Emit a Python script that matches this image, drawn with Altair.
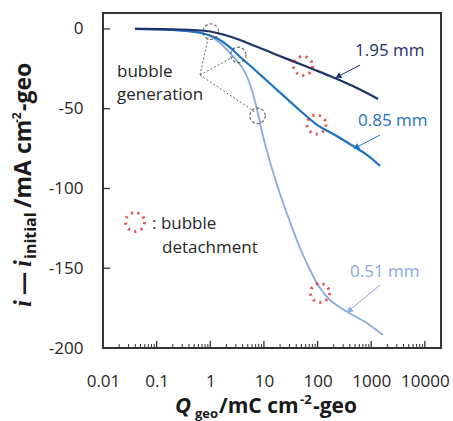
import altair as alt
import pandas as pd

# ---------------- data ----------------
q_195 = [0.0395, 0.273, 0.988, 1.881, 3.583, 6.818, 12.98, 24.72, 47.05, 89.6, 170.5, 324.8, 618.3, 1339]
v_195 = [0, -0.34, -1.6, -3.8, -6.9, -10.7, -14.5, -18.3, -22.0, -25.7, -29.5, -33.6, -38.0, -43.9]

q_085 = [0.0395, 0.273, 0.519, 0.988, 1.518, 2.331, 3.287, 6.818, 12.98, 24.72, 47.05, 93.5,
         211.4, 457.9, 835, 1459]
v_085 = [0, -0.9, -1.9, -4.1, -6.9, -11.6, -16.3, -25.7, -34.2, -42.7, -51.1, -59.6,
         -66.5, -73.4, -79.0, -85.9]

q_051 = [0.0395, 0.273, 0.643, 0.988, 1.518, 2.331, 3.287, 4.074, 5.049, 6.257, 7.756, 9.612,
         11.91, 14.77, 19.94, 30.64, 47.05, 72.3, 111.1, 170.5, 262, 402.5, 800, 1660]
v_051 = [0, -0.97, -2.2, -4.4, -8.8, -15.1, -20.7, -25.0, -31.4, -40.8, -53.3, -67.1,
         -79.0, -89.7, -103.5, -121.0, -137.3, -151.1, -162.4, -169.9, -174.6, -178.4, -184.0, -191.9]

# bubble generation (dashed circles) and detachment (red dotted circles)
q_gen = [1.02, 3.33, 7.6]
v_gen = [-1.7, -16.3, -54.5]
q_det = [53.6, 95.5, 111]
v_det = [-23.2, -59.9, -165.5]

x_labels = [0.01, 0.1, 1, 10, 100, 1000, 10000]
x_major = [0.1, 1, 10, 100, 1000, 10000]
x_minor = [m * 10.0 ** e for e in range(-2, 4) for m in range(2, 10)] + [2e4]
y_labels = [0, -50, -100, -150, -200]

NAVY = "#1F3368"
BLUE = "#1E73C4"
LIGHT = "#8EA9DB"
RED = "#D41414"
TXT = "#262626"

W, H = 338, 335
FONT = "Open Sans"

xs = alt.Scale(type="log", domain=[0.01, 20000])
ys = alt.Scale(domain=[-200, 10], nice=False, zero=False)

x_axis = alt.Axis(values=x_labels, labelExpr="'' + datum.value", title=None, tickSize=0,
                  domain=False, grid=False, labelFontSize=17, labelFont=FONT, labelColor=TXT,
                  labelPadding=25, labelFlush=False, labelOverlap=False, labelBound=False)
y_axis = alt.Axis(values=y_labels, labelExpr="'' + datum.value", title=None, tickSize=0,
                  domain=False, grid=False, labelFontSize=17, labelFont=FONT, labelColor=TXT,
                  labelPadding=20, labelFlush=False, labelOverlap=False)

X = alt.X("Q:Q", scale=xs, axis=x_axis)
Y = alt.Y("v:Q", scale=ys, axis=y_axis)

one = pd.DataFrame({"k": [0]})

layers = []

# inward ticks
layers.append(alt.Chart(pd.DataFrame({"v": y_labels})).mark_tick(
    orient="horizontal", size=7, thickness=1.3, color="#333", opacity=1)
    .encode(y=Y, x=alt.value(3.5)))
layers.append(alt.Chart(pd.DataFrame({"Q": x_major})).mark_tick(
    orient="vertical", size=7, thickness=1.3, color="#333", opacity=1)
    .encode(x=X, y=alt.value(H - 3.5)))
layers.append(alt.Chart(pd.DataFrame({"Q": x_minor})).mark_tick(
    orient="vertical", size=4, thickness=1, color="#333", opacity=1)
    .encode(x=X, y=alt.value(H - 2)))

# curves
for q, v, c, w in [(q_051, v_051, LIGHT, 1.8), (q_085, v_085, BLUE, 2.2), (q_195, v_195, NAVY, 2.2)]:
    layers.append(alt.Chart(pd.DataFrame({"Q": q, "v": v})).mark_line(
        color=c, strokeWidth=w, interpolate="monotone").encode(x=X, y=Y))

# bubble generation circles
layers.append(alt.Chart(pd.DataFrame({"Q": q_gen, "v": v_gen})).mark_point(
    shape="circle", filled=False, size=240, color="#333", strokeWidth=1.2, strokeDash=[3, 2]
).encode(x=X, y=Y))
# bubble detachment circles
layers.append(alt.Chart(pd.DataFrame({"Q": q_det, "v": v_det})).mark_point(
    shape="circle", filled=False, size=360, color=RED, strokeWidth=3, strokeDash=[2.2, 4.5]
).encode(x=X, y=Y))


def txt(s, x, y, size=17, color=TXT, **kw):
    return alt.Chart(one).mark_text(text=s, align=kw.pop("align", "left"), baseline="alphabetic",
                                    fontSize=size, font=kw.pop("font", FONT), color=color, **kw
                                    ).encode(x=alt.value(x), y=alt.value(y))


def seg(x1, y1, x2, y2, color, width=1.0, dash=None):
    kw = {"strokeDash": dash} if dash else {}
    return alt.Chart(one).mark_rule(color=color, strokeWidth=width, **kw).encode(
        x=alt.value(x1), y=alt.value(y1), x2=alt.value(x2), y2=alt.value(y2))


def head(x, y, ang, color):
    return alt.Chart(one).mark_point(shape="triangle", filled=True, size=45, color=color,
                                     opacity=1, angle=ang).encode(x=alt.value(x), y=alt.value(y))


# leader lines for bubble generation
for (x2, y2) in [(106, 21), (130, 44), (152, 99)]:
    layers.append(seg(97, 62, x2, y2, "#666", 1, [2, 2]))
layers.append(txt("bubble", 14, 64))
layers.append(txt("generation", 14, 87))

# legend for detachment
layers.append(alt.Chart(one).mark_point(shape="circle", filled=False, size=360, color=RED,
                                        strokeWidth=3, strokeDash=[2.2, 4.5])
              .encode(x=alt.value(32), y=alt.value(209)))
layers.append(txt(": bubble", 49, 216))
layers.append(txt("detachment", 59, 240))

# series labels with arrows
layers.append(txt("1.95 mm", 252, 43, color=NAVY))
layers.append(seg(257, 52, 236, 63, NAVY, 1))
layers.append(head(236, 63, 242, NAVY))
layers.append(txt("0.85 mm", 255, 113, color=BLUE))
layers.append(seg(277, 122, 254, 134, BLUE, 1))
layers.append(head(254, 134, 242, BLUE))
layers.append(txt("0.51 mm", 247, 264, color=LIGHT))
layers.append(seg(277, 272, 247, 297, LIGHT, 1))
layers.append(head(247, 297, 230, LIGHT))

# x axis title: Q_geo /mC cm^-2-geo
TC = "#1a1a1a"
layers.append(txt("Q", 72, 400, 22, TC, fontWeight="bold", fontStyle="italic"))
layers.append(txt("geo", 92, 405, 13, TC, fontWeight="bold"))
layers.append(txt("/mC cm", 116, 400, 21, TC, fontWeight="bold"))
layers.append(txt("-2", 197, 391, 13, TC, fontWeight="bold"))
layers.append(txt("-geo", 210, 400, 21, TC, fontWeight="bold"))

# y axis title: i − i_initial /mA cm^-2-geo (rotated)
BX = -72
layers.append(txt("i", BX, 294, 25, TC, angle=270, fontWeight="bold", fontStyle="italic",
                  font="Liberation Serif"))
layers.append(txt("\u2014", BX, 282, 23, TC, angle=270, fontWeight="bold"))
layers.append(txt("i", BX, 254, 25, TC, angle=270, fontWeight="bold", fontStyle="italic",
                  font="Liberation Serif"))
layers.append(txt("initial", BX + 5, 246, 16, TC, angle=270, fontWeight="bold"))
layers.append(txt("/mA cm", BX, 195, 23, TC, angle=270, fontWeight="bold"))
layers.append(txt("-2", BX - 10, 110, 12, TC, angle=270, fontWeight="bold"))
layers.append(txt("-geo", BX, 98, 23, TC, angle=270, fontWeight="bold"))

chart = alt.layer(*layers).properties(
    width=W, height=H,
    autosize=alt.AutoSizeParams(type="none"),
    padding={"left": 103, "top": 13, "right": 12, "bottom": 73},
    background="white",
).configure_view(stroke="#333", strokeWidth=2)

chart.save("out.html", embed_options={"renderer": "svg", "actions": False})
